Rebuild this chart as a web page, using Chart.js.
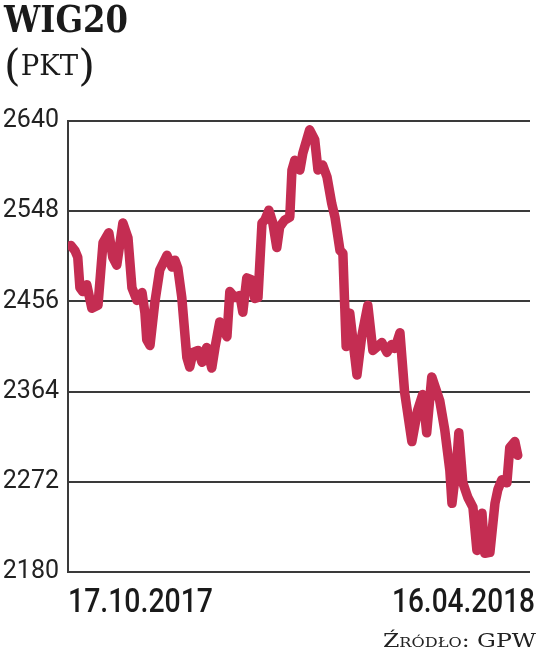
<!DOCTYPE html>
<html><head><meta charset="utf-8">
<script src="https://cdn.jsdelivr.net/npm/chart.js@4"></script>
<style>
html,body{margin:0;padding:0;background:#fff;}
#wrap{position:relative;width:536px;height:653px;overflow:hidden;background:#fff;}
#c{position:absolute;left:0;top:0;}
.t{position:absolute;white-space:nowrap;line-height:1;color:#1a1a1a;transform-origin:0 0;}
#title{font-family:"DejaVu Serif";font-weight:bold;font-size:37px;left:4px;top:1px;}
#sub{font-family:"DejaVu Serif";font-size:27px;left:4px;top:52px;}
#sub .p{font-size:42px;line-height:0;position:relative;top:5px;}
.xl{font-family:Roboto;font-weight:500;font-size:33.7px;top:584px;color:#1a1a1a;}
#src{font-family:"DejaVu Serif";font-size:19px;font-variant:small-caps;top:631px;color:#222;}
</style></head><body>
<div id="wrap">
<canvas id="c" width="536" height="653"></canvas>
<div class="t" id="title" data-w="124" data-l="4">WIG20</div>
<div class="t" id="sub" data-w="91" data-l="4"><span class="p">(</span>PKT<span class="p">)</span></div>
<div class="t xl" id="x0" data-w="145" data-l="68"></div>
<div class="t xl" id="x1" data-w="143" data-r="535"></div>
<div class="t" id="src" data-w="153" data-r="536">Źródło: GPW</div>
</div>
<script>
// ---- data ----
const days = [0,1.1,1.9,2.5,3.3,4.4,5.8,7.5,8.9,10.5,11.6,12.7,14.4,15.8,16.9,18.3,19.7,20.5,21.0,21.9,23.2,24.6,26.6,28.0,28.8,29.6,30.7,32.1,32.9,33.8,35.2,36.3,37.6,39.0,39.9,41.2,43.2,44.0,45.4,46.8,47.6,48.7,50.1,50.9,51.8,52.9,53.7,54.8,55.9,57.0,57.8,59.2,60.6,61.2,62.0,63.4,64.2,66.1,67.5,68.4,69.7,70.9,72.2,73.1,74.5,75.3,76.2,77.2,79.2,80.5,82.2,83.6,86.1,87.5,88.8,89.7,91.1,92.4,94.4,96.0,97.4,98.5,99.9,102.1,103.5,104.9,105.5,106.8,107.4,108.5,109.9,111.3,112.4,113.8,114.6,116.0,117.4,118.2,119.3,120.7,121.5,122.9,123.7];
const values = [2513,2508,2501,2470,2466,2473,2449,2452,2516,2526,2501,2493,2536,2521,2470,2457,2465,2444,2417,2411,2454,2488,2503,2491,2498,2490,2460,2399,2389,2404,2406,2394,2409,2388,2409,2435,2420,2466,2460,2462,2445,2480,2478,2459,2460,2536,2539,2549,2536,2511,2532,2539,2542,2590,2600,2590,2607,2631,2621,2590,2595,2583,2556,2542,2508,2505,2410,2444,2381,2420,2452,2406,2414,2404,2412,2408,2424,2363,2313,2345,2361,2322,2379,2355,2325,2284,2250,2291,2322,2271,2256,2246,2202,2240,2199,2200,2250,2264,2274,2271,2307,2313,2299];
const yTicks = [2180,2272,2364,2456,2548,2640];
const xLabels = ['17.10.2017','16.04.2018'];

document.getElementById('x0').textContent = xLabels[0];
document.getElementById('x1').textContent = xLabels[1];

function fit(){
  document.querySelectorAll('[data-w]').forEach(el=>{
    el.style.transform='none';
    const w = el.getBoundingClientRect().width;
    const tw = +el.dataset.w;
    el.style.transform = 'scaleX(' + (tw/w) + ')';
    if (el.dataset.r) el.style.left = (+el.dataset.r - tw) + 'px';
    else el.style.left = el.dataset.l + 'px';
  });
}
fit();
if (document.fonts && document.fonts.ready) document.fonts.ready.then(fit);

const gridColor = '#3a3a3a';
new Chart(document.getElementById('c').getContext('2d'), {
  type: 'line',
  data: {
    datasets: [{
      data: days.map((d,i)=>({x:d, y:values[i]})),
      borderColor: '#c42d52',
      borderWidth: 9.5,
      pointRadius: 0,
      tension: 0,
      borderJoinStyle: 'round',
      borderCapStyle: 'round',
      fill: false
    }]
  },
  options: {
    responsive: false,
    animation: false,
    devicePixelRatio: 1,
    layout: {padding: {top: 121, right: 6, bottom: 81, left: 0}},
    plugins: {legend: {display: false}, tooltip: {enabled: false}},
    scales: {
      x: {type: 'linear', min: -0.8, max: 127.1, display: false},
      y: {
        min: 2180, max: 2640,
        afterBuildTicks: s => { s.ticks = yTicks.map(v => ({value: v})); },
        afterFit: s => { s.width = 68; },
        ticks: {font: {family: 'Roboto', size: 25}, color: '#222', padding: 9, callback: v => String(v)},
        grid: {color: gridColor, lineWidth: 2, drawTicks: false},
        border: {display: true, color: gridColor, width: 2}
      }
    }
  }
});
</script>
</body></html>
